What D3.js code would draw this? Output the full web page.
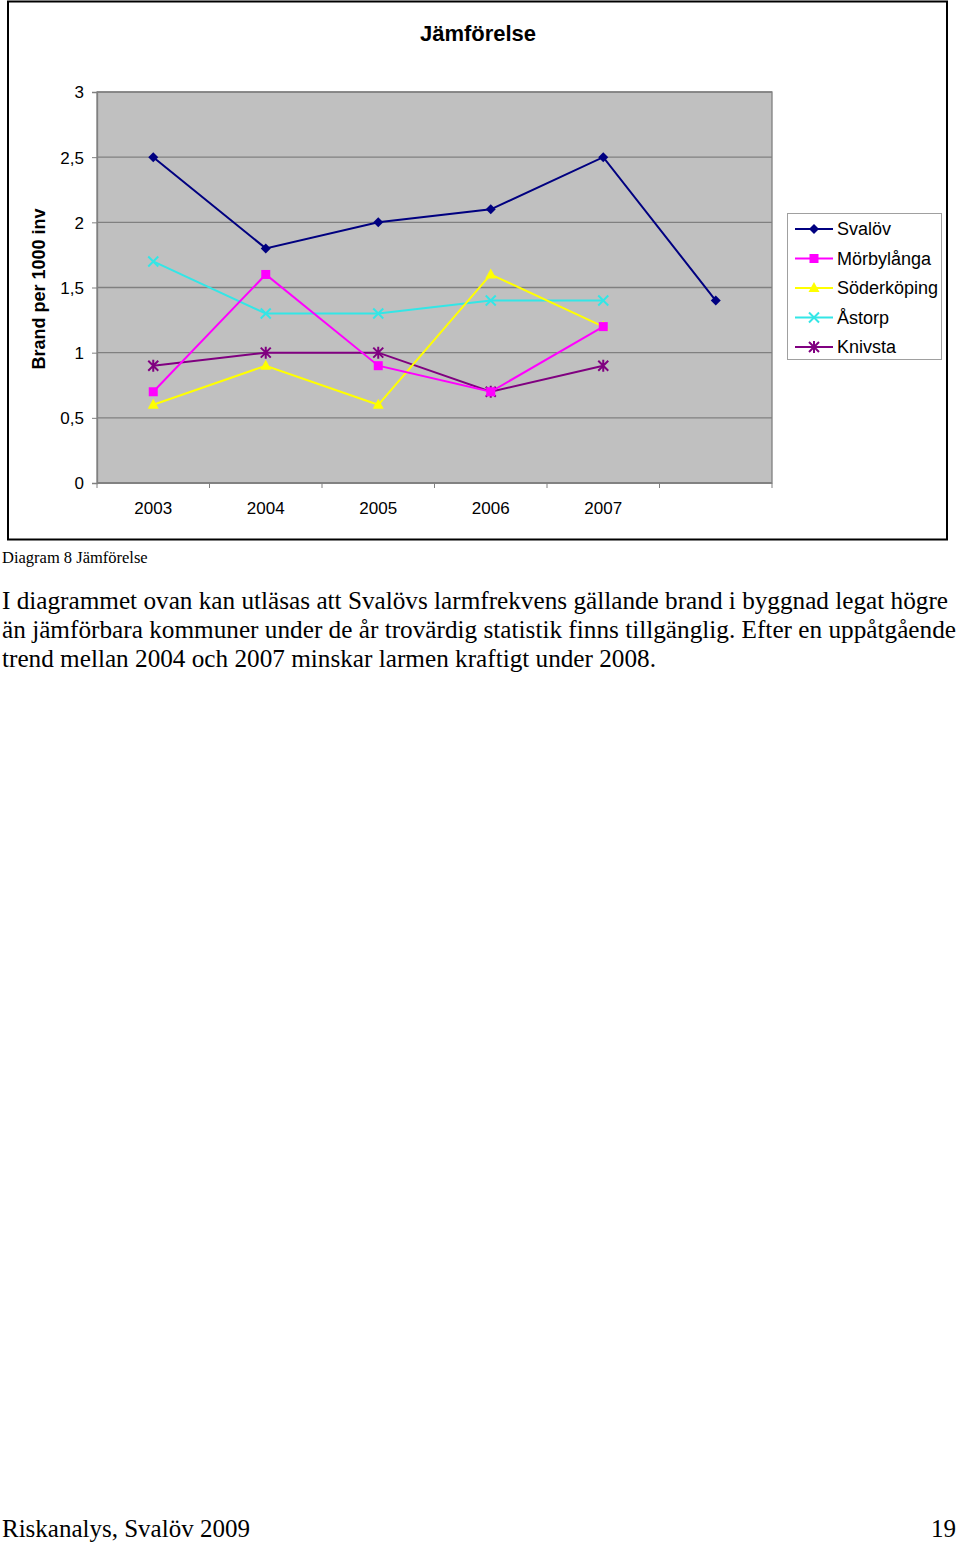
<!DOCTYPE html>
<html>
<head>
<meta charset="utf-8">
<script src="https://cdn.jsdelivr.net/npm/d3@7"></script>
<style>
  body { margin: 0; background: #fff; }
  svg { display: block; }
</style>
</head>
<body>
<svg id="page" width="960" height="1545"></svg>
<script>
// data
var years = ["2003", "2004", "2005", "2006", "2007", ""];
var svalov = [2.5, 1.8, 2.0, 2.1, 2.5, 1.4];
var morbylanga = [0.7, 1.6, 0.9, 0.7, 1.2];
var soderkoping = [0.6, 0.9, 0.6, 1.6, 1.2];
var astorp = [1.7, 1.3, 1.3, 1.4, 1.4];
var knivsta = [0.9, 1.0, 1.0, 0.7, 0.9];
var yTicks = [0, 0.5, 1, 1.5, 2, 2.5, 3];

var seriesNames = ["Svalöv", "Mörbylånga", "Söderköping", "Åstorp", "Knivsta"];
var seriesValues = [svalov, morbylanga, soderkoping, astorp, knivsta];
var seriesColors = ["#000080", "#ff00ff", "#ffff00", "#33e6e6", "#800080"];
var seriesMarkers = ["diamond", "square", "triangle", "cross", "star"];

var svg = d3.select("#page");
var sans = "'Liberation Sans', Arial, sans-serif";
var serif = "'Liberation Serif', 'Times New Roman', serif";

// chart frame
svg.append("rect")
    .attr("x", 8).attr("y", 1.5)
    .attr("width", 939).attr("height", 538)
    .attr("fill", "#fff")
    .attr("stroke", "#000")
    .attr("stroke-width", 2);

svg.append("text")
    .attr("x", 478).attr("y", 41)
    .attr("text-anchor", "middle")
    .style("font", "bold 22px " + sans)
    .text("Jämförelse");

var plot = { left: 97, right: 772, top: 92, bottom: 483 };

var x = d3.scaleBand()
    .domain(d3.range(years.length))
    .range([plot.left, plot.right]);

var y = d3.scaleLinear()
    .domain([0, 3])
    .range([plot.bottom, plot.top]);

svg.append("rect")
    .attr("x", plot.left).attr("y", plot.top)
    .attr("width", plot.right - plot.left)
    .attr("height", plot.bottom - plot.top)
    .attr("fill", "#c0c0c0");

// gridlines
svg.append("g").selectAll("line")
    .data(yTicks)
    .enter().append("line")
    .attr("x1", plot.left).attr("x2", plot.right)
    .attr("y1", function (d) { return y(d); })
    .attr("y2", function (d) { return y(d); })
    .attr("stroke", "#808080")
    .attr("stroke-width", 1.3);

svg.append("rect")
    .attr("x", plot.left).attr("y", plot.top)
    .attr("width", plot.right - plot.left)
    .attr("height", plot.bottom - plot.top)
    .attr("fill", "none")
    .attr("stroke", "#808080")
    .attr("stroke-width", 1.3);

// y axis
var yAxis = d3.axisLeft(y)
    .tickValues(yTicks)
    .tickSize(5)
    .tickPadding(8)
    .tickFormat(function (d) { return String(d).replace(".", ","); });

var gy = svg.append("g")
    .attr("transform", "translate(" + plot.left + ",0)")
    .call(yAxis);
gy.select(".domain").attr("stroke", "#808080").attr("stroke-width", 1.3);
gy.selectAll(".tick line").attr("stroke", "#808080");
gy.selectAll(".tick text")
    .attr("fill", "#000")
    .attr("dy", "0.35em")
    .style("font", "17px " + sans);

// x axis: ticks at category boundaries, labels centred
var gx = svg.append("g")
    .attr("transform", "translate(0," + plot.bottom + ")");
gx.append("line")
    .attr("x1", plot.left).attr("x2", plot.right)
    .attr("stroke", "#808080").attr("stroke-width", 1.3);
gx.selectAll("line.tick")
    .data(d3.range(years.length + 1))
    .enter().append("line")
    .attr("class", "tick")
    .attr("x1", function (i) { return plot.left + i * x.bandwidth(); })
    .attr("x2", function (i) { return plot.left + i * x.bandwidth(); })
    .attr("y1", 0).attr("y2", 5)
    .attr("stroke", "#808080");
gx.selectAll("text")
    .data(years)
    .enter().append("text")
    .attr("x", function (d, i) { return x(i) + x.bandwidth() / 2; })
    .attr("y", 31)
    .attr("text-anchor", "middle")
    .style("font", "17px " + sans)
    .text(function (d) { return d; });

svg.append("text")
    .attr("transform", "translate(45,289) rotate(-90)")
    .attr("text-anchor", "middle")
    .style("font", "bold 18px " + sans)
    .text("Brand per 1000 inv");

// markers
function drawMarker(g, type, color, cx, cy) {
    if (type === "diamond") {
        g.append("path")
            .attr("d", "M" + cx + "," + (cy - 5) + "L" + (cx + 5) + "," + cy +
                "L" + cx + "," + (cy + 5) + "L" + (cx - 5) + "," + cy + "Z")
            .attr("fill", color);
    } else if (type === "square") {
        g.append("rect")
            .attr("x", cx - 4.5).attr("y", cy - 4.5)
            .attr("width", 9).attr("height", 9)
            .attr("fill", color);
    } else if (type === "triangle") {
        g.append("path")
            .attr("d", "M" + cx + "," + (cy - 6) + "L" + (cx + 5.5) + "," + (cy + 4) +
                "L" + (cx - 5.5) + "," + (cy + 4) + "Z")
            .attr("fill", color);
    } else if (type === "cross") {
        g.append("path")
            .attr("d", "M" + (cx - 5) + "," + (cy - 5) + "L" + (cx + 5) + "," + (cy + 5) +
                "M" + (cx + 5) + "," + (cy - 5) + "L" + (cx - 5) + "," + (cy + 5))
            .attr("stroke", color).attr("stroke-width", 2);
    } else if (type === "star") {
        g.append("path")
            .attr("d", "M" + (cx - 5) + "," + (cy - 5) + "L" + (cx + 5) + "," + (cy + 5) +
                "M" + (cx + 5) + "," + (cy - 5) + "L" + (cx - 5) + "," + (cy + 5) +
                "M" + cx + "," + (cy - 6) + "L" + cx + "," + (cy + 6))
            .attr("stroke", color).attr("stroke-width", 2);
    }
}

var line = d3.line()
    .x(function (d, i) { return x(i) + x.bandwidth() / 2; })
    .y(function (d) { return y(d); });

// draw in reverse so Svalöv ends on top like in the original
d3.range(seriesValues.length).reverse().forEach(function (s) {
    var g = svg.append("g");
    g.append("path")
        .attr("d", line(seriesValues[s]))
        .attr("fill", "none")
        .attr("stroke", seriesColors[s])
        .attr("stroke-width", 2);
    seriesValues[s].forEach(function (v, i) {
        drawMarker(g, seriesMarkers[s], seriesColors[s], x(i) + x.bandwidth() / 2, y(v));
    });
});

// legend
var legend = svg.append("g");
legend.append("rect")
    .attr("x", 787.5).attr("y", 213.5)
    .attr("width", 154).attr("height", 146)
    .attr("fill", "#fff")
    .attr("stroke", "#a0a0a0");
seriesNames.forEach(function (name, i) {
    var ly = 229 + i * 29.5;
    legend.append("line")
        .attr("x1", 795).attr("x2", 833)
        .attr("y1", ly).attr("y2", ly)
        .attr("stroke", seriesColors[i])
        .attr("stroke-width", 2);
    drawMarker(legend, seriesMarkers[i], seriesColors[i], 814, ly);
    legend.append("text")
        .attr("x", 837).attr("y", ly + 6)
        .style("font", "18px " + sans)
        .text(name);
});

// page text below the chart
svg.append("text")
    .attr("x", 2).attr("y", 563)
    .style("font", "16.5px " + serif)
    .text("Diagram 8 Jämförelse");

var paragraph = [
    "I diagrammet ovan kan utläsas att Svalövs larmfrekvens gällande brand i byggnad legat högre",
    "än jämförbara kommuner under de år trovärdig statistik finns tillgänglig. Efter en uppåtgående",
    "trend mellan 2004 och 2007 minskar larmen kraftigt under 2008."
];
var lineWidths = [948, 956, 656];
svg.append("g").selectAll("text")
    .data(paragraph)
    .enter().append("text")
    .attr("x", 2)
    .attr("y", function (d, i) { return 609 + i * 29; })
    .attr("textLength", function (d, i) { return lineWidths[i] - 2; })
    .attr("lengthAdjust", "spacingAndGlyphs")
    .style("font", "25px " + serif)
    .text(function (d) { return d; });

svg.append("text")
    .attr("x", 2).attr("y", 1537)
    .style("font", "25px " + serif)
    .text("Riskanalys, Svalöv 2009");
svg.append("text")
    .attr("x", 956).attr("y", 1537)
    .attr("text-anchor", "end")
    .style("font", "25px " + serif)
    .text("19");
</script>
</body>
</html>
